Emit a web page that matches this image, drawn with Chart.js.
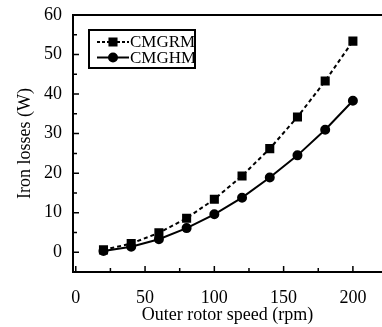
<!DOCTYPE html>
<html>
<head>
<meta charset="utf-8">
<script src="https://cdn.jsdelivr.net/npm/chart.js@4/dist/chart.umd.min.js"></script>
<style>
  body { margin: 0; background: #fff; }
  #wrap { width: 382px; height: 327px; }
</style>
</head>
<body>
<div id="wrap"><canvas id="myChart" width="382" height="327"></canvas></div>
<script>
// data
const speeds = [20, 40, 60, 80, 100, 120, 140, 160, 180, 200];
const cmgrm = [0.6, 2.2, 4.9, 8.6, 13.4, 19.3, 26.2, 34.2, 43.3, 53.4];
const cmghm = [0.3, 1.4, 3.3, 6.1, 9.6, 13.8, 18.9, 24.5, 31.0, 38.3];
const xTicks = [0, 50, 100, 150, 200];
const yTicks = [0, 10, 20, 30, 40, 50, 60];

const serif = 'Liberation Serif';

function toPoints(ys) {
    return speeds.map((x, i) => ({ x: x, y: ys[i] }));
}

// frame (open on the right, cut off in the original), inward ticks, boxed legend
const decorations = {
    id: 'decorations',
    afterDraw(chart) {
        const ctx = chart.ctx;
        const area = chart.chartArea;
        const xs = chart.scales.x;
        const ys = chart.scales.y;
        ctx.save();
        ctx.strokeStyle = '#000';
        ctx.lineWidth = 2;
        ctx.beginPath();
        ctx.moveTo(chart.width, area.top);
        ctx.lineTo(area.left, area.top);
        ctx.lineTo(area.left, area.bottom);
        ctx.lineTo(chart.width, area.bottom);
        ctx.stroke();

        ctx.lineWidth = 1.5;
        ctx.beginPath();
        for (let v = 0; v <= 220; v += 25) {
            const px = xs.getPixelForValue(v);
            const len = v % 50 === 0 ? 6 : 4;
            ctx.moveTo(px, area.bottom);
            ctx.lineTo(px, area.bottom - len);
        }
        for (let v = 0; v <= 60; v += 5) {
            const py = ys.getPixelForValue(v);
            const len = v % 10 === 0 ? 6 : 4;
            ctx.moveTo(area.left, py);
            ctx.lineTo(area.left + len, py);
        }
        ctx.stroke();

        // legend
        const bx = 89, by = 30, bw = 106, bh = 38;
        ctx.lineWidth = 2;
        ctx.strokeRect(bx, by, bw, bh);
        ctx.font = '17px "' + serif + '"';
        ctx.textBaseline = 'middle';
        ctx.fillStyle = '#000';
        chart.data.datasets.forEach((ds, i) => {
            const cy = by + 12 + i * 15.5;
            ctx.lineWidth = 2;
            ctx.setLineDash(ds.borderDash ? [3, 2] : []);
            ctx.beginPath();
            ctx.moveTo(97, cy);
            ctx.lineTo(129, cy);
            ctx.stroke();
            ctx.setLineDash([]);
            Chart.helpers.drawPoint(ctx, {
                pointStyle: ds.pointStyle,
                radius: ds.pointRadius,
                borderWidth: 1
            }, 113, cy);
            ctx.fill();
            ctx.fillText(ds.label, 130, cy + 1);
        });
        ctx.restore();
    }
};

new Chart(document.getElementById('myChart').getContext('2d'), {
    type: 'line',
    data: {
        datasets: [{
            label: 'CMGRM',
            data: toPoints(cmgrm),
            borderColor: '#000',
            backgroundColor: '#000',
            borderWidth: 2,
            borderDash: [4, 3],
            pointStyle: 'rect',
            pointRadius: 5,
            tension: 0
        }, {
            label: 'CMGHM',
            data: toPoints(cmghm),
            borderColor: '#000',
            backgroundColor: '#000',
            borderWidth: 2,
            pointStyle: 'circle',
            pointRadius: 4,
            tension: 0
        }]
    },
    options: {
        responsive: false,
        animation: false,
        layout: { autoPadding: false, padding: { top: 15, right: 0, bottom: 0, left: 0 } },
        plugins: { legend: { display: false }, tooltip: { enabled: false } },
        scales: {
            x: {
                type: 'linear',
                min: -2,
                max: 221,
                afterBuildTicks: s => { s.ticks = xTicks.map(v => ({ value: v })); },
                afterFit: s => { s.height = 55; s.paddingLeft = 0; s.paddingRight = 0; },
                grid: { display: false, drawTicks: false },
                border: { display: false },
                ticks: { color: '#000', padding: 15, maxRotation: 0, font: { family: serif, size: 18 } },
                title: {
                    display: true,
                    text: 'Outer rotor speed (rpm)',
                    color: '#000',
                    padding: 1,
                    font: { family: serif, size: 18 }
                }
            },
            y: {
                min: -5,
                max: 60,
                afterBuildTicks: s => { s.ticks = yTicks.map(v => ({ value: v })); },
                afterFit: s => { s.width = 73; s.paddingTop = 0; s.paddingBottom = 0; },
                grid: { display: false, drawTicks: false },
                border: { display: false },
                ticks: { color: '#000', padding: 11, font: { family: serif, size: 18 } },
                title: {
                    display: true,
                    text: 'Iron losses (W)',
                    color: '#000',
                    padding: 14,
                    font: { family: serif, size: 18 }
                }
            }
        }
    },
    plugins: [decorations]
});
</script>
</body>
</html>
